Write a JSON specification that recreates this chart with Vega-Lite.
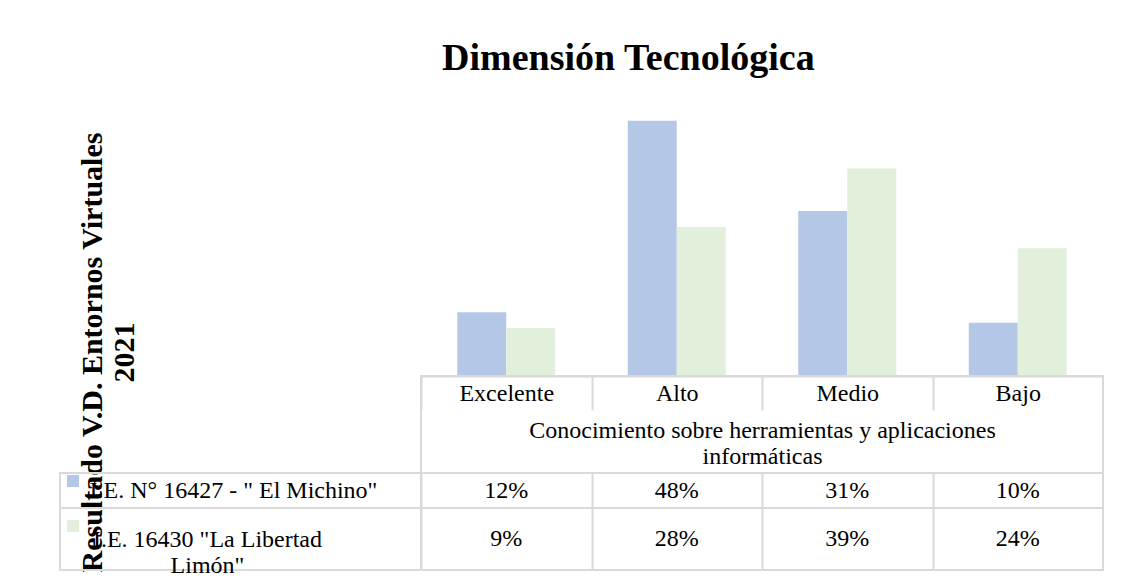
{
  "$schema": "https://vega.github.io/schema/vega-lite/v6.json",
  "autosize": {"type": "pad"},
  "padding": {"left": 59, "top": 40, "right": 0, "bottom": 0},
  "background": "white",
  "title": {
    "text": "Dimensión Tecnológica",
    "font": "Liberation Serif",
    "fontSize": 38,
    "fontWeight": "bold",
    "color": "black",
    "anchor": "start",
    "frame": "group",
    "baseline": "alphabetic",
    "offset": 2,
    "dx": 382
  },
  "datasets": {
    "d": [
      {"category": "Excelente", "series": "I.E. N° 16427 - \" El Michino\"", "value": 0.12},
      {"category": "Alto", "series": "I.E. N° 16427 - \" El Michino\"", "value": 0.48},
      {"category": "Medio", "series": "I.E. N° 16427 - \" El Michino\"", "value": 0.31},
      {"category": "Bajo", "series": "I.E. N° 16427 - \" El Michino\"", "value": 0.10},
      {"category": "Excelente", "series": "I.E. 16430 \"La Libertad Limón\"", "value": 0.09},
      {"category": "Alto", "series": "I.E. 16430 \"La Libertad Limón\"", "value": 0.28},
      {"category": "Medio", "series": "I.E. 16430 \"La Libertad Limón\"", "value": 0.39},
      {"category": "Bajo", "series": "I.E. 16430 \"La Libertad Limón\"", "value": 0.24}
    ]
  },
  "bounds": "flush",
  "spacing": 0,
  "columns": 2,
  "config": {
    "font": "Liberation Serif",
    "view": {"stroke": "#d9d9d9", "strokeWidth": 2}
  },
  "concat": [
    {
      "width": 361, "height": 266, "view": {"stroke": null},
      "data": {"name": "d"}, "mark": "text",
      "encoding": {
        "x": {"field": "category", "type": "nominal", "axis": null},
        "y": {"field": "series", "type": "nominal", "axis": null},
        "text": {"value": ""}
      }
    },
    {
      "width": 682,
      "height": 266,
      "view": {"stroke": null},
      "data": {"name": "d"},
      "mark": {"type": "bar"},
      "encoding": {
        "x": {
          "field": "category",
          "type": "nominal",
          "sort": ["Excelente", "Alto", "Medio", "Bajo"],
          "scale": {"paddingInner": 0, "paddingOuter": 0},
          "axis": {
            "orient": "bottom",
            "domain": true,
            "domainColor": "#d9d9d9",
            "domainWidth": 2,
            "ticks": true,
            "tickBand": "extent",
            "tickSize": 34,
            "tickColor": "#d9d9d9",
            "tickWidth": 2,
            "labelAngle": 0,
            "labelFont": "Liberation Serif",
            "labelFontSize": 24,
            "labelColor": "black",
            "labelPadding": -29,
            "title": ["Conocimiento sobre herramientas y aplicaciones", "informáticas"],
            "titleFont": "Liberation Serif",
            "titleFontSize": 24,
            "titleFontWeight": "normal",
            "titleColor": "black",
            "titleX": 341,
            "titleY": 61,
            "titleBaseline": "alphabetic",
            "titleLineHeight": 26
          }
        },
        "xOffset": {
          "field": "series",
          "type": "nominal",
          "sort": ["I.E. N° 16427 - \" El Michino\"", "I.E. 16430 \"La Libertad Limón\""],
          "scale": {"paddingInner": 0, "paddingOuter": 0.74}
        },
        "y": {
          "field": "value",
          "type": "quantitative",
          "scale": {"domain": [0, 0.5]},
          "axis": {
            "domain": false,
            "ticks": false,
            "labels": false,
            "grid": false,
            "title": ["Resultado V.D. Entornos Virtuales", "2021"],
            "titleFont": "Liberation Serif",
            "titleFontSize": 30,
            "titleFontWeight": "bold",
            "titleColor": "black",
            "titleLineHeight": 32,
            "titleAlign": "center",
            "titleBaseline": "middle",
            "titleX": -329,
            "titleY": 242
          }
        },
        "color": {
          "field": "series",
          "type": "nominal",
          "scale": {
            "domain": ["I.E. N° 16427 - \" El Michino\"", "I.E. 16430 \"La Libertad Limón\""],
            "range": ["#b4c7e7", "#e2efda"]
          },
          "legend": {
            "orient": "none",
            "legendX": 7,
            "legendY": 365,
            "title": null,
            "padding": 0,
            "symbolType": "square",
            "symbolSize": 144,
            "symbolStrokeWidth": 0,
            "labelExpr": "''",
            "labelFontSize": 1,
            "rowPadding": 33
          }
        }
      }
    },
    {
      "width": 361, "height": 97, "view": {"stroke": null},
      "data": {"name": "d"}, "mark": "text",
      "encoding": {
        "x": {"field": "category", "type": "nominal", "axis": null},
        "y": {"field": "series", "type": "nominal", "axis": null},
        "text": {"value": ""}
      }
    },
    {
      "width": 682, "height": 97,
      "data": {"name": "d"}, "mark": "text",
      "encoding": {
        "x": {"field": "category", "type": "nominal", "axis": null},
        "y": {"field": "series", "type": "nominal", "axis": null},
        "text": {"value": ""}
      }
    },
    {
      "width": 361, "height": 35,
      "data": {"name": "d"}, "mark": "text",
      "encoding": {
        "x": {"field": "category", "type": "nominal", "axis": null},
        "y": {"field": "series", "type": "nominal", "axis": null},
        "text": {"value": ""}
      }
    },
    {
      "width": 682,
      "height": 35,
      "data": {"name": "d"},
      "transform": [{"filter": "datum.series == 'I.E. N° 16427 - \" El Michino\"'"}],
      "mark": {"type": "text", "font": "Liberation Serif", "fontSize": 24, "color": "black", "baseline": "middle"},
      "encoding": {
        "x": {
          "field": "category",
          "type": "nominal",
          "sort": ["Excelente", "Alto", "Medio", "Bajo"],
          "scale": {"paddingInner": 0, "paddingOuter": 0},
          "axis": {"orient": "top", "labels": false, "ticks": false, "domain": false, "title": null, "grid": true, "tickBand": "extent", "gridColor": "#d9d9d9", "gridWidth": 2}
        },
        "y": {
          "field": "series",
          "type": "nominal",
          "axis": {"title": null, "domain": false, "ticks": false, "labelFont": "Liberation Serif", "labelFontSize": 24, "labelColor": "black", "labelAlign": "center", "labelPadding": 188, "labelLimit": 400}
        },
        "text": {"field": "value", "type": "quantitative", "format": ".0%"}
      }
    },
    {
      "width": 361, "height": 62,
      "data": {"name": "d"}, "mark": "text",
      "encoding": {
        "x": {"field": "category", "type": "nominal", "axis": null},
        "y": {"field": "series", "type": "nominal", "axis": null},
        "text": {"value": ""}
      }
    },
    {
      "width": 682,
      "height": 62,
      "data": {"name": "d"},
      "transform": [{"filter": "indexof(datum.series, 'Libertad') >= 0"}],
      "mark": {"type": "text", "font": "Liberation Serif", "fontSize": 24, "color": "black", "baseline": "middle"},
      "encoding": {
        "x": {
          "field": "category",
          "type": "nominal",
          "sort": ["Excelente", "Alto", "Medio", "Bajo"],
          "scale": {"paddingInner": 0, "paddingOuter": 0},
          "axis": {"orient": "top", "labels": false, "ticks": false, "domain": false, "title": null, "grid": true, "tickBand": "extent", "gridColor": "#d9d9d9", "gridWidth": 2}
        },
        "y": {
          "field": "series",
          "type": "nominal",
          "axis": {"title": null, "domain": false, "ticks": false, "labelFont": "Liberation Serif", "labelFontSize": 24, "labelColor": "black", "labelAlign": "center", "labelPadding": 214, "labelLimit": 400, "labelLineHeight": 26, "labelExpr": "['I.E. 16430 \"La Libertad', 'Limón\"']"}
        },
        "text": {"field": "value", "type": "quantitative", "format": ".0%"}
      }
    }
  ]
}
